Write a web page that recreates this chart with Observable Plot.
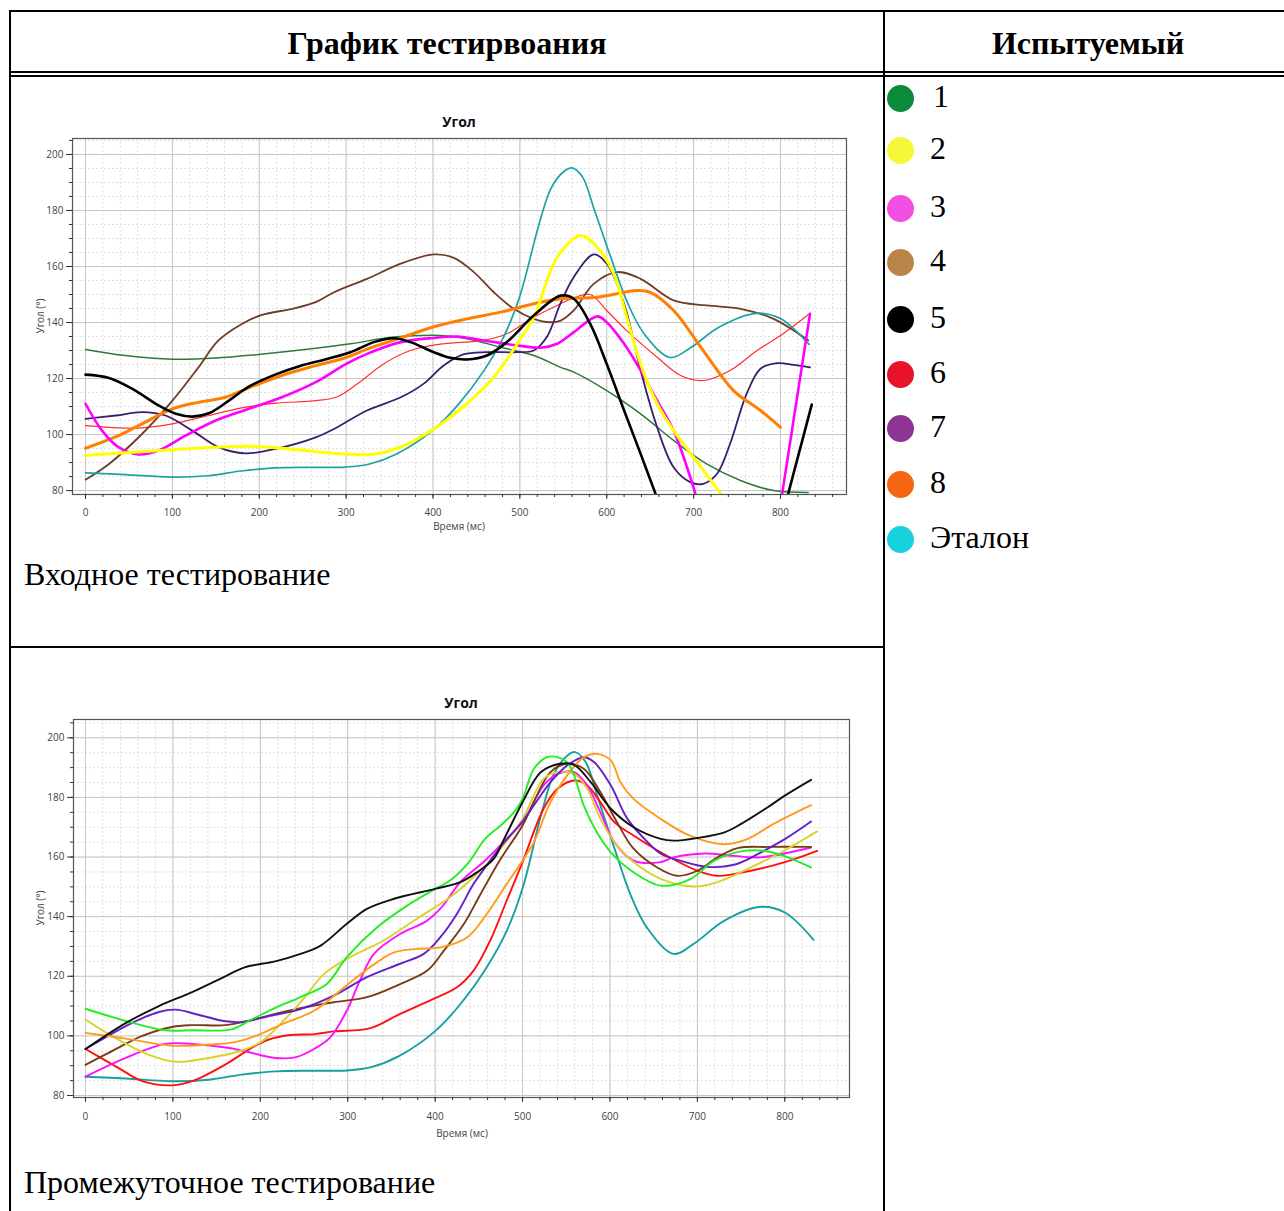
<!DOCTYPE html>
<html>
<head>
<meta charset="utf-8">
<script src="https://cdn.jsdelivr.net/npm/d3@7"></script>
<script src="https://cdn.jsdelivr.net/npm/@observablehq/plot@0.6"></script>
<style>
  html, body { margin: 0; padding: 0; background: #fff; }
  body { width: 1284px; height: 1211px; overflow: hidden; position: relative; font-family: "Liberation Serif", "Times New Roman", serif; color: #000; }
  .ln { position: absolute; background: #000; z-index: 5; }
  .t { position: absolute; white-space: nowrap; line-height: 1; }
  .hdr { font-weight: bold; font-size: 32px; }
  .cap { font-size: 32px; }
  .lg { font-size: 32px; }
  .dot { position: absolute; width: 27px; height: 27px; border-radius: 50%; z-index: 4; }
  .chart { position: absolute; left: 0; }
  .ct { position: absolute; font-family: "Open Sans", sans-serif; white-space: nowrap; line-height: 1; transform: translate(-50%, -50%); color: #222; }
  .ctitle { font-size: 14px; font-weight: bold; color: #111; }
  .clab { font-size: 10px; color: #444; }
</style>
</head>
<body>
<!-- table lines -->
<div class="ln" style="left:9px;top:10px;width:1275px;height:2px"></div>
<div class="ln" style="left:9px;top:10px;width:2px;height:1201px"></div>
<div class="ln" style="left:883px;top:10px;width:2px;height:1201px"></div>
<div class="ln" style="left:9px;top:71px;width:1275px;height:2px"></div>
<div class="ln" style="left:9px;top:75px;width:1275px;height:2px"></div>
<div class="ln" style="left:9px;top:646px;width:876px;height:1.5px"></div>

<div class="t hdr" style="top:27px;left:447px;transform:translateX(-50%)">График тестирвоания</div>
<div class="t hdr" style="top:27px;left:1088px;transform:translateX(-50%)">Испытуемый</div>

<div class="t cap" style="left:24px;top:558px">Входное тестирование</div>
<div class="t cap" style="left:24px;top:1166px">Промежуточное тестирование</div>

<div id="legend"></div>

<div class="chart" id="chart1" style="top:100px"></div>
<div class="chart" id="chart2" style="top:680px"></div>

<div class="ct ctitle" style="left:459px;top:122px">Угол</div>
<div class="ct clab" style="left:459px;top:526px">Время (мс)</div>
<div class="ct clab" style="left:40px;top:316px;transform:translate(-50%,-50%) rotate(-90deg)">Угол (°)</div>

<div class="ct ctitle" style="left:461px;top:703px">Угол</div>
<div class="ct clab" style="left:462px;top:1133px">Время (мс)</div>
<div class="ct clab" style="left:40px;top:908px;transform:translate(-50%,-50%) rotate(-90deg)">Угол (°)</div>

<script>
// ---------- legend ----------
const legendLabels = ["1", "2", "3", "4", "5", "6", "7", "8", "Эталон"];
const legendColors = ["#0b8a3b", "#f7f739", "#f04fe2", "#b8844a", "#000000", "#e8132b", "#8e3494", "#f4660f", "#17d1de"];
const legendRowY = [97, 149, 207, 261, 318, 373, 427, 483, 538];

// ---------- axis ticks ----------
const xMajor = [0, 100, 200, 300, 400, 500, 600, 700, 800];
const yMajor = [80, 100, 120, 140, 160, 180, 200];

// ---------- Входное тестирование (time ms, angle °) ----------
const inS1 = [[0,130.4],[46,128.2],[100,126.9],[150,127.3],[199,128.6],[265,130.8],[305,132.4],[355,134.8],[409,135.4],[439,134.2],[478,131.2],[516,128.2],[547,124],[562,122.3],[600,115.7],[639,107.4],[677,97.9],[715,89.5],[754,83.6],[792,80],[832,79.3]];
const inS2 = [[0,92.5],[46,93.5],[100,94.6],[150,95.5],[188,95.8],[226,95.1],[265,93.9],[300,93.1],[330,92.9],[360,95.2],[401,102],[439,111],[470,120.5],[497,132.4],[516,141.9],[543,163.3],[570,171.1],[589,166.9],[608,157.4],[623,141.9],[639,125.2],[658,111],[677,101.4],[700,91.9],[731,79]];
const inS3 = [[0,111],[19,101.4],[38,95.5],[61,92.9],[84,94.3],[115,99.6],[150,105],[188,109.2],[226,113.3],[265,118.7],[300,125.2],[324,128.8],[363,133],[401,134.5],[428,135],[458,133.6],[497,131.8],[524,131],[543,132.4],[562,136.5],[589,142.2],[600,140.1],[620,132.4],[639,122.9],[658,112.1],[677,101.4],[702,79],[750,null],[802,79],[834,143.1]];
const inS4 = [[0,83.9],[27,89.5],[65,100.2],[100,112.1],[130,124],[153,133.6],[180,139.5],[203,142.7],[238,144.9],[265,147.3],[286,150.8],[324,155.6],[363,161],[401,164.3],[424,163.1],[447,158],[470,150.8],[493,144.9],[516,141.3],[535,140.1],[547,140.7],[562,144.3],[585,153.8],[612,158],[639,155.6],[677,147.9],[715,146.1],[754,144.9],[792,141.3],[832,133.6]];
const inS5 = [[0,121.4],[27,120.2],[54,116.3],[84,110.4],[104,107.4],[123,106.4],[142,107.6],[165,112.1],[188,117.1],[219,121.5],[247,124.5],[278,127],[305,129.4],[332,133],[355,134.4],[374,133],[401,129.4],[420,127.4],[439,126.8],[462,128.2],[485,133],[516,142.5],[547,149.6],[562,148.5],[581,139.5],[600,125.2],[620,108.6],[639,93.1],[656,79],[730,null],[809,79],[836,110.7]];
const inS6 = [[0,103.2],[38,102.4],[65,102.4],[100,103.8],[142,106.8],[180,109.5],[219,111.2],[265,112.1],[290,113.5],[313,118.1],[343,125.2],[374,130],[412,132.4],[458,133.6],[485,136],[516,141.9],[547,146.7],[562,148.8],[581,150],[600,144.3],[623,137.1],[658,127.6],[685,121.1],[711,119.3],[742,122.9],[773,130],[803,136],[834,143.3]];
const inS7 = [[0,105.6],[35,106.8],[65,108],[92,106.8],[123,101.4],[153,95.5],[184,93.3],[219,94.9],[265,99],[286,102],[324,108.6],[363,113.3],[389,118.1],[412,124.6],[435,128.6],[462,129.4],[497,129.4],[516,130],[531,134.8],[547,147],[562,156.2],[585,164.3],[600,161],[620,146.7],[639,122.9],[658,102.6],[677,88.3],[696,83],[711,82.4],[727,86],[742,96.7],[761,114.5],[777,123.5],[796,125.5],[815,124.9],[834,124]];
const inS8 = [[0,95.1],[38,99.6],[65,103.8],[100,109.2],[130,111.5],[161,113.3],[188,116.7],[226,121.1],[265,124.6],[300,127.5],[324,130.5],[363,134.5],[401,138.5],[439,141.3],[478,143.7],[516,146.7],[547,148.5],[589,149],[635,151.4],[650,150.8],[677,144.3],[711,130],[746,115.7],[777,108.6],[800,102.6]];

// ---------- Эталон (same reference curve in both charts) ----------
const etalon = [[0,86.3],[46,85.7],[99,84.8],[141,85.3],[179,87],[217,88.1],[262,88.3],[299,88.4],[327,89.5],[358,93.1],[400,101.6],[429,110.7],[459,123],[482,135.3],[500,149.5],[522,175],[536,188],[551,194],[560,195.2],[572,192],[586,180],[605,163],[624,147],[643,136],[673,127.5],[696,130.9],[730,138.5],[772,143.3],[800,141.4],[833,132.2]];

// ---------- Промежуточное тестирование ----------
const midS1 = [[0,109.1],[46,105],[91,101.9],[122,101.9],[167,102.2],[190,105.5],[217,109.4],[246,113],[276,117.4],[299,126.4],[334,136.5],[368,143.7],[400,149.3],[417,152.1],[437,157.7],[457,166],[475,170.6],[490,175],[500,179.5],[513,189.6],[528,193.5],[540,193.5],[551,191.8],[559,187.4],[570,177.3],[585,168.3],[601,161.6],[627,154.9],[658,150.4],[692,152.6],[719,158.7],[750,161.9],[776,162.1],[799,160.4],[830,156.5]];
const midS2 = [[0,105.5],[34,99.3],[72,93.7],[103,91.3],[141,92.6],[179,95.1],[202,98.2],[224,104.3],[247,111.6],[273,120.8],[299,125.8],[341,132],[379,139.3],[417,146.5],[448,154.4],[475,162.8],[500,172.8],[524,186.2],[540,188.5],[559,187.9],[574,182.9],[589,172.8],[608,163.9],[627,158.3],[658,152.7],[696,150.1],[723,151.6],[761,156.5],[799,162.1],[837,168.6]];
const midS3 = [[0,86.3],[46,92.6],[91,97.3],[122,97.3],[163,96],[186,94.6],[217,92.6],[240,92.8],[262,95.7],[280,99.5],[299,108.5],[314,118.6],[330,127.5],[360,134.2],[390,138.5],[407,143],[430,152],[456,158.5],[483,166.5],[500,171.7],[524,184],[540,187.9],[559,188.5],[574,184],[589,175],[605,165],[627,158.8],[658,158.3],[673,159.9],[708,161.2],[742,160.4],[772,159.9],[830,163.2]];
const midS4 = [[0,90.3],[27,94.4],[65,100],[99,103],[122,103.6],[160,103.6],[186,105],[217,107.4],[262,110.2],[284,111.3],[322,113],[360,117.4],[391,121.9],[410,128.6],[433,137.6],[452,147.6],[475,159.4],[500,170.6],[532,188.5],[551,191.3],[570,189.6],[589,181.8],[608,171.7],[627,162.8],[654,156.5],[677,153.7],[700,155.4],[723,159.9],[746,163],[780,163.4],[830,163.4]];
const midS5 = [[0,95.6],[46,104.3],[84,110],[122,114.7],[160,120],[182,123],[217,125],[246,127.5],[269,130.3],[299,137.6],[322,142.6],[353,146],[400,149.3],[429,151.6],[448,154.9],[467,159.4],[478,165.5],[500,178.4],[521,188.5],[543,191.3],[559,190.9],[578,185.1],[601,176.2],[627,170],[658,166.1],[673,165.5],[700,166.4],[731,168.3],[750,171.1],[780,176.6],[800,180.6],[830,185.9]];
const midS6 = [[0,95.6],[38,89.2],[65,84.8],[99,83.4],[122,84.8],[160,90.4],[190,96],[209,98.7],[232,100.2],[262,100.6],[284,101.5],[326,102.6],[360,107.4],[398,112.4],[425,116.3],[444,121.9],[463,132],[482,145.5],[500,158.3],[524,176.2],[540,182.9],[559,185.7],[574,184],[589,178.4],[605,171.7],[627,167.2],[658,161.6],[700,155.4],[723,153.7],[761,155.4],[799,158.2],[837,162.1]];
const midS7 = [[0,95.6],[53,104.3],[84,108],[103,108.8],[129,107.1],[160,104.9],[179,104.7],[209,106.6],[246,109],[284,113.5],[322,119.7],[360,124.2],[387,127.5],[406,133.1],[425,141],[444,151],[456,156],[475,163.5],[500,172],[532,185.1],[551,190.7],[570,193.5],[582,191.8],[601,184],[620,172.8],[643,165],[658,161.1],[681,158.7],[711,156.7],[742,157.4],[769,161],[800,166],[830,171.9]];
const midS8 = [[0,101],[46,99.1],[99,96.7],[141,97.1],[171,97.9],[194,99.9],[224,103.8],[262,108.5],[299,117],[330,124],[353,128],[379,129.2],[406,129.7],[437,133.1],[459,140.9],[482,151],[500,158.8],[513,165],[532,178.4],[551,187.4],[570,193.5],[585,194.6],[601,192.4],[612,185.1],[627,179.5],[658,172.8],[692,167.1],[731,164.3],[757,166],[787,171.1],[830,177.4]];

// ---------- series styling ----------
const inSeries = [
  {data: inS1, color: "#2b7a3c", w: 1.5},
  {data: inS6, color: "#ff3030", w: 1.2},
  {data: inS7, color: "#3a1e6b", w: 1.8},
  {data: inS4, color: "#6e3d28", w: 1.8},
  {data: etalon, color: "#1ca3a3", w: 1.7},
  {data: inS8, color: "#ff7f00", w: 3},
  {data: inS3, color: "#ff00ff", w: 2.6},
  {data: inS2, color: "#ffff00", w: 3},
  {data: inS5, color: "#000000", w: 2.6}
];
const midSeries = [
  {data: etalon, color: "#17a0a0", w: 1.9},
  {data: midS6, color: "#ff1010", w: 1.9},
  {data: midS3, color: "#ff10ff", w: 1.9},
  {data: midS4, color: "#7a3c14", w: 1.9},
  {data: midS2, color: "#d8d22a", w: 1.9},
  {data: midS7, color: "#6420c8", w: 1.9},
  {data: midS8, color: "#ff9a1a", w: 1.9},
  {data: midS1, color: "#22ee22", w: 1.9},
  {data: midS5, color: "#111111", w: 1.9}
];

function makeChart(series, opts) {
  const minorXTicks = d3.range(0, 861, 20);
  const minorYTicks = d3.range(80, 206, 5);
  return Plot.plot({
    width: opts.width,
    height: opts.height,
    marginLeft: opts.ml, marginRight: opts.mr, marginTop: opts.mt, marginBottom: opts.mb,
    x: {domain: opts.xd, axis: null},
    y: {domain: opts.yd, axis: null},
    style: {background: "transparent", fontFamily: "Open Sans, sans-serif", fontSize: "10px", color: "#444", overflow: "visible"},
    marks: [
      Plot.gridX(minorXTicks, {stroke: "#e0e0e0", strokeOpacity: 1, strokeDasharray: "2,2"}),
      Plot.gridY(minorYTicks, {stroke: "#e0e0e0", strokeOpacity: 1, strokeDasharray: "2,2"}),
      Plot.gridX(xMajor, {stroke: "#c6c6c6", strokeOpacity: 1, strokeWidth: 1}),
      Plot.gridY(yMajor, {stroke: "#c6c6c6", strokeOpacity: 1, strokeWidth: 1}),
      ...series.map(s => Plot.line(s.data, {x: d => d[0], y: d => d[1], stroke: s.color, strokeWidth: s.w, curve: "catmull-rom", clip: true})),
      Plot.frame({stroke: "#555", strokeWidth: 1.2}),
      Plot.axisX(minorXTicks, {tickSize: 3, tickFormat: () => "", label: null, stroke: "#333"}),
      Plot.axisX(xMajor, {tickSize: 5, tickPadding: opts.xpad, label: null, stroke: "#333", fill: "#444"}),
      Plot.axisY(minorYTicks, {tickSize: 3, tickFormat: () => "", label: null, stroke: "#333"}),
      Plot.axisY(yMajor, {tickSize: 6, tickPadding: 3, label: null, stroke: "#333", fill: "#444"})
    ]
  });
}

document.getElementById("chart1").appendChild(makeChart(inSeries, {
  width: 870, height: 440, ml: 72, mr: 24, mt: 38, mb: 46,
  xd: [-15, 876], yd: [78.6, 205.7], xpad: 9
}));
document.getElementById("chart2").appendChild(makeChart(midSeries, {
  width: 870, height: 470, ml: 73, mr: 21, mt: 39, mb: 53,
  xd: [-13.7, 874], yd: [79.33, 206.14], xpad: 10
}));

// legend
const lg = document.getElementById("legend");
legendLabels.forEach((lab, i) => {
  const d = document.createElement("div");
  d.className = "dot";
  d.style.left = (900 - 13.5) + "px";
  d.style.top = (legendRowY[i] + 1 - 13.5) + "px";
  d.style.background = legendColors[i];
  lg.appendChild(d);
  const t = document.createElement("div");
  t.className = "t lg";
  t.textContent = lab;
  t.style.left = (lab === "1" ? 933 : 930) + "px";
  t.style.top = (legendRowY[i] - 17) + "px";
  lg.appendChild(t);
});
</script>
</body>
</html>
